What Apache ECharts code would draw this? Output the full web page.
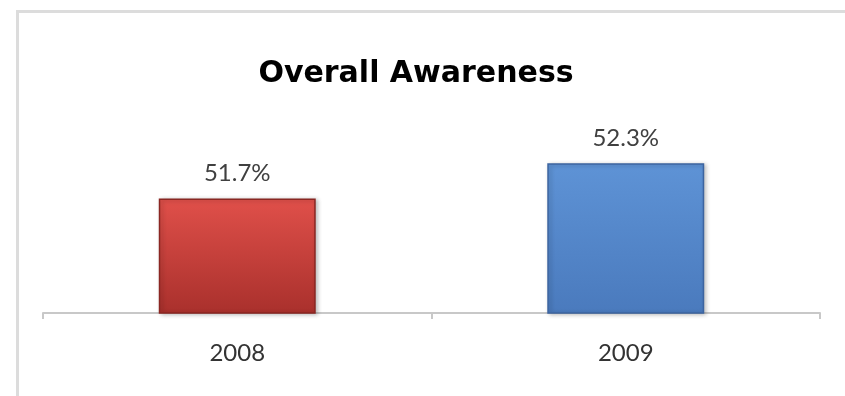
<!DOCTYPE html>
<html><head><meta charset="utf-8">
<script src="https://cdn.jsdelivr.net/npm/echarts@6/dist/echarts.min.js"></script>
<style>html,body{margin:0;padding:0;background:#fff}#c{width:845px;height:396px}</style>
</head><body><div id="c"></div>
<script>
const titleText = "Overall Awareness";
const categories = ["2008", "2009"];
const values = [51.7, 52.3];
const barColors = [
  ["#e0504a", "#a9302c", "#8a2622"],
  ["#5e93d6", "#4a7abd", "#3c64a0"]
];

const chart = echarts.init(document.getElementById('c'), null, {renderer: 'canvas'});
const font = "Lato, 'Open Sans', sans-serif";
chart.setOption({
  animation: false,
  backgroundColor: '#fff',
  graphic: [{
    type: 'rect', left: 15, top: 9, shape: {width: 900, height: 500},
    style: {fill: 'none', stroke: '#dcdcdc', lineWidth: 3}, silent: true
  }],
  title: {
    text: titleText, left: 411, top: 54, textAlign: 'center',
    textStyle: {fontFamily: "'DejaVu Sans', sans-serif", fontWeight: 'bold', fontSize: 30, color: '#000'}
  },
  grid: {left: 43, right: 25, top: 122, bottom: 83, containLabel: false},
  xAxis: {
    type: 'category', data: categories,
    axisLine: {lineStyle: {color: '#c8c8c8', width: 2}},
    axisTick: {show: true, length: 6, lineStyle: {color: '#c8c8c8', width: 2}},
    axisLabel: {fontFamily: font, fontSize: 24, color: '#333', margin: 28}
  },
  yAxis: {
    type: 'value', min: 49.75, max: 53, show: false, splitLine: {show: false}
  },
  series: [{
    type: 'bar', barWidth: '40.4%',
    data: values.map((v, i) => ({
      value: v,
      itemStyle: {
        color: new echarts.graphic.LinearGradient(0, 0, 0, 1, [
          {offset: 0, color: barColors[i][0]},
          {offset: 1, color: barColors[i][1]}
        ]),
        borderColor: barColors[i][2], borderWidth: 1.5,
        shadowColor: 'rgba(0,0,0,0.25)', shadowBlur: 4, shadowOffsetX: 2, shadowOffsetY: 1
      }
    })),
    label: {
      show: true, position: 'top', distance: 13,
      formatter: p => p.value.toFixed(1) + '%',
      fontFamily: font, fontSize: 24, color: '#404040'
    }
  }]
});
</script></body></html>
